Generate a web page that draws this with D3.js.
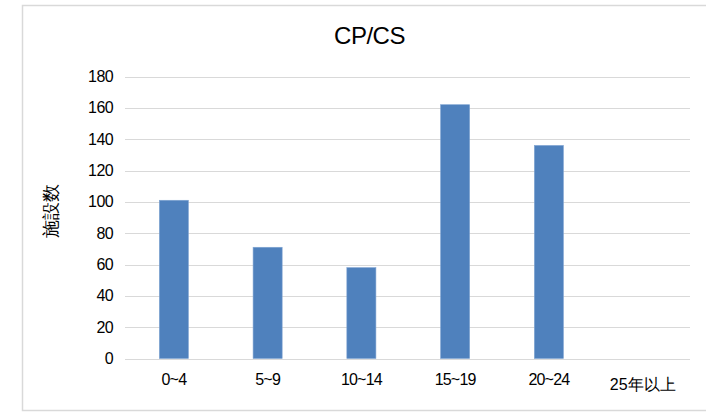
<!DOCTYPE html>
<html>
<head>
<meta charset="utf-8">
<script src="https://cdn.jsdelivr.net/npm/d3@7"></script>
<style>
  html, body { margin: 0; padding: 0; background: #fff; }
  svg { display: block; }
  text { font-family: "Liberation Sans", Arial, sans-serif; fill: #000; }
</style>
</head>
<body>
<script>
// Facility counts by years since opening
const categories = ["0~4", "5~9", "10~14", "15~19", "20~24", "25年以上"];
const counts = [101, 71, 58, 162, 136, 0];
const yTicks = [0, 20, 40, 60, 80, 100, 120, 140, 160, 180];
const chartTitle = "CP/CS";
const yTitle = "施設数";

const W = 706, H = 413;
const svg = d3.select("body").append("svg").attr("width", W).attr("height", H);

// outer chart frame
svg.append("rect")
  .attr("x", 22.5).attr("y", 5.5)
  .attr("width", W + 10).attr("height", 405)
  .attr("fill", "#fff").attr("stroke", "#d9d9d9").attr("stroke-width", 1.5);

const plot = { left: 125, right: 690, top: 76.5, bottom: 358.5 };

const x = d3.scaleBand().domain(categories).range([127, 689.5]).paddingInner(0.69).paddingOuter(0.345);
const y = d3.scaleLinear().domain([0, 180]).range([plot.bottom, plot.top]);

// gridlines
svg.append("g").selectAll("line").data(yTicks).join("line")
  .attr("x1", plot.left).attr("x2", plot.right)
  .attr("y1", d => Math.round(y(d)) + 0.5).attr("y2", d => Math.round(y(d)) + 0.5)
  .attr("stroke", "#d9d9d9").attr("stroke-width", 1.2);

// bars
svg.append("g").selectAll("rect").data(categories).join("rect")
  .attr("x", d => x(d))
  .attr("width", x.bandwidth())
  .attr("y", (d, i) => y(counts[i]))
  .attr("height", (d, i) => y(0) - y(counts[i]))
  .attr("fill", "#4f81bd")
  .attr("stroke", "#7fa4d2").attr("stroke-width", 0.6);

// y axis labels
const yAxis = d3.axisLeft(y).tickValues(yTicks).tickSize(0).tickPadding(12);
const gy = svg.append("g").attr("transform", `translate(${plot.left},0)`).call(yAxis);
gy.select(".domain").remove();
gy.selectAll("text")
  .attr("font-family", "'Liberation Sans', Arial, sans-serif")
  .attr("font-size", 16).attr("letter-spacing", -0.6).attr("fill", "#000");

// x axis labels
const last = categories.length - 1;
const xAxis = d3.axisBottom(x).tickSize(0).tickPadding(16);
const gx = svg.append("g").attr("transform", `translate(0,${plot.bottom})`).call(xAxis);
gx.select(".domain").remove();
gx.selectAll("text")
  .attr("font-family", "'Liberation Sans', 'Noto Sans CJK JP', sans-serif")
  .attr("font-size", 16).attr("fill", "#000")
  .attr("letter-spacing", (d, i) => i === last ? 0 : -0.8)
  .attr("dy", (d, i) => i === last ? "0.95em" : "0.66em");

// title
svg.append("text")
  .attr("x", 369.5).attr("y", 44)
  .attr("text-anchor", "middle")
  .attr("font-size", 24).attr("letter-spacing", -0.5)
  .text(chartTitle);

// y axis title
svg.append("text")
  .attr("transform", "translate(57,211) rotate(-90)")
  .attr("text-anchor", "middle")
  .attr("font-family", "'Noto Sans CJK JP', sans-serif")
  .attr("font-size", 18).attr("fill", "#404040")
  .text(yTitle);
</script>
</body>
</html>
